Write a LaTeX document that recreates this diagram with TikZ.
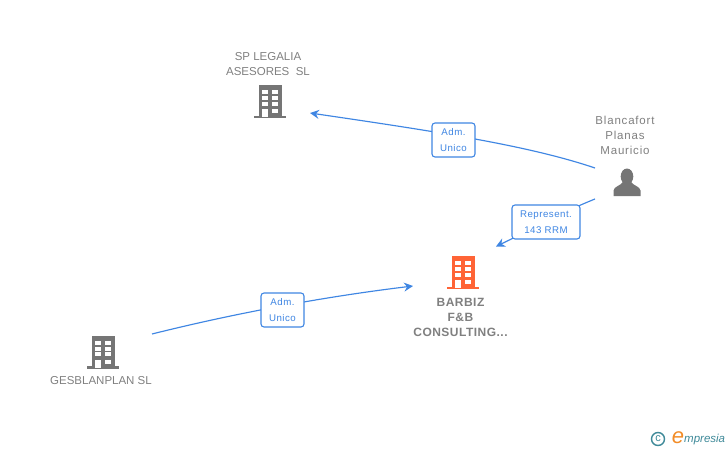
\documentclass[tikz,border=0pt]{standalone}
\usepackage{fontspec}
\setmainfont{Liberation Sans}
\newfontfamily\widefont[LetterSpace=4]{Liberation Sans}
\newfontfamily\widerfont[LetterSpace=7]{Liberation Sans}
\newfontfamily\boxfont[LetterSpace=5]{Liberation Sans}
\usetikzlibrary{arrows.meta}
\definecolor{linkblue}{HTML}{3F86E3}
\definecolor{labelgrey}{HTML}{808080}
\definecolor{icongrey}{HTML}{757575}
\definecolor{iconorange}{HTML}{FF6436}
\definecolor{logoteal}{HTML}{3F8A99}
\definecolor{logoorange}{HTML}{F28C28}
\tikzset{
  x=1pt,y=-1pt,
  namelabel/.style={text=labelgrey,font=\fontsize{11.5}{15}\selectfont,align=center,inner sep=0pt},
  widelabel/.style={text=labelgrey,font=\widerfont\fontsize{11.5}{15}\selectfont,align=center,inner sep=0pt},
  boldlabel/.style={text=labelgrey,font=\widefont\fontsize{12}{15}\selectfont\bfseries,align=center,inner sep=0pt},
  linkbox/.style={draw=linkblue,fill=white,rounded corners=3pt,line width=1.1pt,text=linkblue,
     font=\boxfont\fontsize{9.7}{15.5}\selectfont,align=center,inner sep=0pt,minimum height=34pt},
  link/.style={draw=linkblue,line width=1.15pt,-{Stealth[length=9pt,width=9pt,inset=3pt]}},
  pics/building/.style={code={
    \fill[#1] (-11.5,0) rectangle (11.5,32);
    \fill[#1] (-16,30.5) rectangle (16,33.3);
    \foreach \yy in {5,11,16.7}{
      \fill[white] (-7.7,\yy) rectangle (-2.2,\yy+4);
      \fill[white] (2.2,\yy) rectangle (7.7,\yy+4);
    }
    \fill[white] (-7.7,24) rectangle (-2.2,32);
    \fill[white] (2.2,24) rectangle (7.7,28);
  }},
}
\begin{document}
\begin{tikzpicture}
\useasboundingbox (0,0) rectangle (728,450);
\fill[white] (0,0) rectangle (728,450);

\coordinate (sp) at (310,113);
\coordinate (blancaTop) at (595,168);
\coordinate (blancaLow) at (595,199);
\coordinate (barbizRep) at (496,246.5);
\coordinate (barbizAdm) at (413,286);
\coordinate (gesb) at (152,334);

\draw[link] (blancaTop) .. controls (530,146) and (440,132) .. (sp);
\node[linkbox,minimum width=43pt] (adm1) at (453.5,140) {Adm.\\Unico};
\draw[link] (blancaLow) .. controls (560,213) and (530,230) .. (barbizRep);
\node[linkbox,minimum width=68pt] (rep) at (546,222) {Represent.\\143 RRM};
\draw[link] (gesb) .. controls (240,312) and (330,296) .. (barbizAdm);
\node[linkbox,minimum width=43pt] (adm2) at (282.5,310) {Adm.\\Unico};

\pic at (270,85) {building=icongrey};
\pic at (463,256) {building=iconorange};
\pic at (103,335.5) {building=icongrey};

% person
\fill[icongrey] (627,176.5) ellipse (6.3pt and 8pt);
\fill[icongrey] (613.5,196) -- (613.5,190.5) .. controls (614,186.5) and (620,186) .. (623,182)
  -- (631,182) .. controls (634,186) and (640,186.5) .. (640.5,190.5) -- (640.5,196) -- cycle;

\node[namelabel] (splabel) at (268,64) {SP LEGALIA\\ASESORES\ \ SL};
\node[widelabel] (blabel) at (625,135) {Blancafort\\Planas\\Mauricio};
\node[boldlabel] (barbiz) at (460.5,317) {BARBIZ\\F\&B\\CONSULTING...};
\node[namelabel] (geslabel) at (101,381) {GESBLANPLAN SL};

% logo
\node[circle,draw=logoteal,line width=1.4pt,minimum size=13pt,inner sep=0pt,text=logoteal,font=\fontsize{11}{11}\selectfont] (copyr) at (658,439) {c};
\node[inner sep=0pt,text=logoorange,font=\fontsize{22}{22}\selectfont\itshape] (logoe) at (678,437.5) {e};
\node[inner sep=0pt,anchor=west,text=logoteal,font=\fontsize{11.5}{12}\selectfont\itshape] (logot) at (684,439.5) {mpresia};
\end{tikzpicture}
\end{document}
